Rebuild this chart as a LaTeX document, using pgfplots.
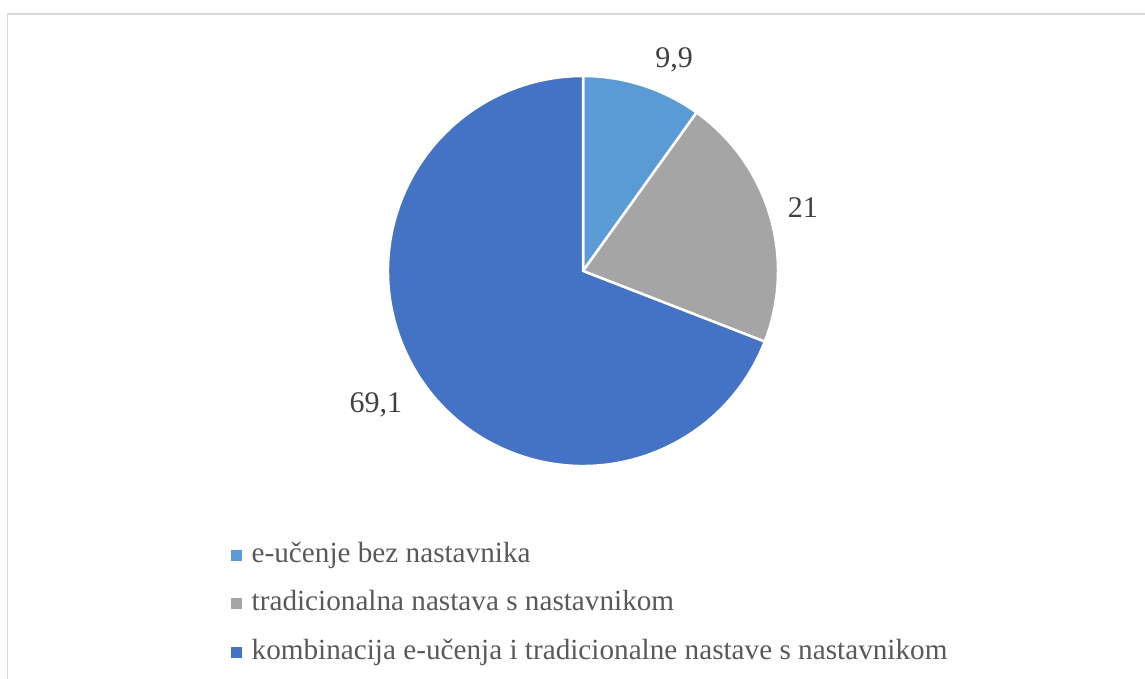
\documentclass[border=0pt]{standalone}
\usepackage{pgfplots}
\usepackage{pgfplotstable}
\pgfplotsset{compat=1.18}
\usepackage{fontspec}
\setmainfont{Liberation Serif}
\definecolor{cA}{HTML}{5B9BD5}
\definecolor{cB}{HTML}{A5A5A5}
\definecolor{cC}{HTML}{4472C4}
\definecolor{txtL}{HTML}{404040}
\definecolor{txtG}{HTML}{595959}
\definecolor{framec}{HTML}{D9D9D9}

\pgfplotstableread{
idx value
0 9.9
1 21
2 69.1
}\piedata

\begin{document}
\begin{tikzpicture}
\useasboundingbox (0pt,0pt) rectangle (1145pt,679pt);
\draw[framec, line width=1.5pt] (7.5pt,0pt) -- (7.5pt,665pt) -- (1145pt,665pt);
\pgfplotstablegetelem{0}{value}\of\piedata \pgfmathsetmacro\vA{\pgfplotsretval}
\pgfplotstablegetelem{1}{value}\of\piedata \pgfmathsetmacro\vB{\pgfplotsretval}
\pgfplotstablegetelem{2}{value}\of\piedata \pgfmathsetmacro\vC{\pgfplotsretval}
\pgfmathsetmacro\aA{90}
\pgfmathsetmacro\aB{90-3.6*\vA}
\pgfmathsetmacro\aC{\aB-3.6*\vB}
\pgfmathsetmacro\aD{\aC-3.6*\vC}
\begin{axis}[at={(583pt,408pt)}, anchor=center, scale only axis,
  width=390pt, height=390pt, xmin=-1, xmax=1, ymin=-1, ymax=1,
  hide axis, clip=false,
  legend style={at={(rel axis cs:-0.41,-0.193)}, anchor=north west,
    draw=none, fill=none, font=\fontsize{29.2}{34}\selectfont,
    text=txtG, row sep=23.5pt, column sep=8pt,
    nodes={inner ysep=0pt, text height=19pt, text depth=6pt},
    legend cell align=left},
  legend image code/.code={\fill[#1] (0pt,-4pt) rectangle (10pt,6pt);},
]
\filldraw[fill=cA, draw=white, line width=2.5pt, line join=round] (axis cs:0,0) -- (axis cs:{cos(\aA)},{sin(\aA)}) arc[start angle=\aA, end angle=\aB, radius=195pt] -- cycle;
\filldraw[fill=cB, draw=white, line width=2.5pt, line join=round] (axis cs:0,0) -- (axis cs:{cos(\aB)},{sin(\aB)}) arc[start angle=\aB, end angle=\aC, radius=195pt] -- cycle;
\filldraw[fill=cC, draw=white, line width=2.5pt, line join=round] (axis cs:0,0) -- (axis cs:{cos(\aC)},{sin(\aC)}) arc[start angle=\aC, end angle=\aD, radius=195pt] -- cycle;
\node[anchor=base, font=\fontsize{30}{36}\selectfont, text=txtL] at (axis cs:0.467,1.043) {9,9};
\node[anchor=base, font=\fontsize{30}{36}\selectfont, text=txtL] at (axis cs:1.128,0.272) {21};
\node[anchor=base, font=\fontsize{30}{36}\selectfont, text=txtL] at (axis cs:-1.062,-0.728) {69,1};
\addlegendimage{cA}
\addlegendentry{e-učenje bez nastavnika}
\addlegendimage{cB}
\addlegendentry{tradicionalna nastava s nastavnikom}
\addlegendimage{cC}
\addlegendentry{kombinacija e-učenja i tradicionalne nastave s nastavnikom}
\end{axis}
\end{tikzpicture}
\end{document}
